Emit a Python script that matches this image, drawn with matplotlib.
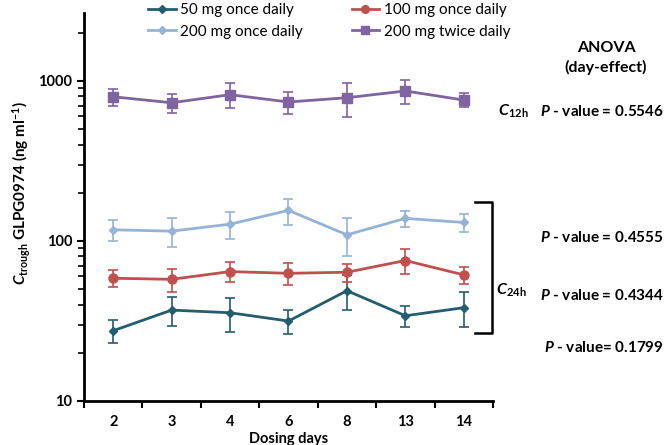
import numpy as np
import matplotlib
matplotlib.use('Agg')
import matplotlib.pyplot as plt
from matplotlib.lines import Line2D

plt.rcParams['font.family'] = ['Lato', 'DejaVu Sans']
plt.rcParams['mathtext.fontset'] = 'custom'
plt.rcParams['mathtext.rm'] = 'Lato'
plt.rcParams['mathtext.it'] = 'Lato:italic'
plt.rcParams['mathtext.bf'] = 'Lato:bold'
plt.rcParams['mathtext.bfit'] = 'Lato:bold:italic'

days = ['2', '3', '4', '6', '8', '13', '14']

mean_50 = [27.5, 37.0, 35.6, 31.6, 48.9, 34.1, 38.3]
sd_50 = [4.4, 7.5, 8.7, 5.4, 12.0, 5.0, 9.5]
mean_100 = [58.5, 57.6, 64.4, 62.8, 63.8, 75.5, 61.4]
sd_100 = [7.0, 9.4, 9.0, 10.0, 8.4, 13.0, 7.6]
mean_200 = [117.5, 115.2, 127.4, 155.3, 109.3, 138.4, 130.6]
sd_200 = [18, 24, 25, 29, 29, 16, 17]
mean_200bid = [797, 731, 821, 739, 786, 866, 760]
sd_200bid = [95, 101, 146, 113, 189, 150, 77]

p_labels = ['0.5546', '0.4555', '0.4344', '0.1799']

c_teal = '#245E6E'
c_red = '#C0504D'
c_lblue = '#95B3D7'
c_purple = '#8064A2'

fig = plt.figure(figsize=(6.66, 4.45), dpi=100)
ax = fig.add_axes([84 / 666, 1 - 401 / 445, (493 - 84) / 666, (401 - 13) / 445])

x = np.arange(len(days))

series = [
    (mean_50, sd_50, c_teal, 'D', 4.5, '50 mg once daily', 2),
    (mean_100, sd_100, c_red, 'o', 6.5, '100 mg once daily', 3),
    (mean_200, sd_200, c_lblue, 'D', 4.5, '200 mg once daily', 4),
    (mean_200bid, sd_200bid, c_purple, 's', 6.5, '200 mg twice daily', 5),
]
handles = {}
for m, s, c, mk, ms, lab, z in series:
    ax.errorbar(x, m, yerr=s, color=c, marker=mk, markersize=ms, linewidth=2,
                elinewidth=1.2, capsize=3.5, capthick=1.2, zorder=z)
    handles[lab] = Line2D([], [], color=c, marker=mk, markersize=ms * 0.85, linewidth=2)

ax.set_yscale('log')
ax.set_ylim(10, 2660)
ax.set_xlim(-0.5, 6.5)
ax.set_yticks([10, 100, 1000])
ax.set_yticklabels(['10', '100', '1000'], fontweight='bold', fontsize=10.5)
ax.set_xticks(x)
ax.set_xticklabels(days, fontweight='bold', fontsize=10.5)
ax.set_xticks(np.arange(-0.5, 7, 1), minor=True)
ax.tick_params(axis='x', which='major', length=0, pad=10)
ax.tick_params(axis='x', which='minor', length=5, width=1.5, direction='out')
ax.tick_params(axis='y', which='major', length=5, width=1.5, direction='out')
ax.tick_params(axis='y', which='minor', length=4, width=1.2, direction='out')
for sp in ['top', 'right']:
    ax.spines[sp].set_visible(False)
for sp in ['left', 'bottom']:
    ax.spines[sp].set_linewidth(2)

ax.set_xlabel('Dosing days', fontweight='bold', fontsize=10.5, labelpad=2)
fig.text(22 / 666, 1 - 193 / 445,
         r'$\mathbfit{C}_{\mathbf{trough}}$ GLPG0974 (ng ml$^{\mathbf{-1}}$)',
         rotation=90, ha='center', va='center', fontweight='bold', fontsize=11)

order = ['50 mg once daily', '200 mg once daily', '100 mg once daily', '200 mg twice daily']
fig.legend([handles[k] for k in order], order, ncol=2, frameon=False,
           loc='upper left', bbox_to_anchor=(148 / 666, 1 - 3 / 445), fontsize=11,
           borderpad=0, borderaxespad=0,
           handlelength=1.8, handletextpad=0.3, columnspacing=3.2, labelspacing=0.5)

# ANOVA annotations
fig.text(606 / 666, 1 - 48 / 445, 'ANOVA', ha='center', va='center', fontweight='bold', fontsize=11.5)
fig.text(606 / 666, 1 - 67 / 445, '(day-effect)', ha='center', va='center', fontweight='bold', fontsize=11.5)
p_y = [111, 237, 296, 347]
for i, (pv, yy) in enumerate(zip(p_labels, p_y)):
    sep = '= ' if i == 3 else ' = '
    fig.text(664 / 666, 1 - yy / 445, r'$\mathbfit{P}$ - value' + sep + pv,
             ha='right', va='center', fontweight='bold', fontsize=11)
fig.text(498 / 666, 1 - 111 / 445, r'$\mathbfit{C}_{\mathbf{12h}}$', ha='left', va='center',
         fontweight='bold', fontsize=11.5)
fig.text(496 / 666, 1 - 290 / 445, r'$\mathbfit{C}_{\mathbf{24h}}$', ha='left', va='center',
         fontweight='bold', fontsize=11.5)

# bracket for C24h
bx = [475 / 666, 492 / 666, 492 / 666, 475 / 666]
by = [1 - 202 / 445, 1 - 202 / 445, 1 - 333 / 445, 1 - 333 / 445]
fig.add_artist(Line2D(bx, by, color='black', linewidth=1.8, transform=fig.transFigure))

fig.savefig('out.png', dpi=100)
